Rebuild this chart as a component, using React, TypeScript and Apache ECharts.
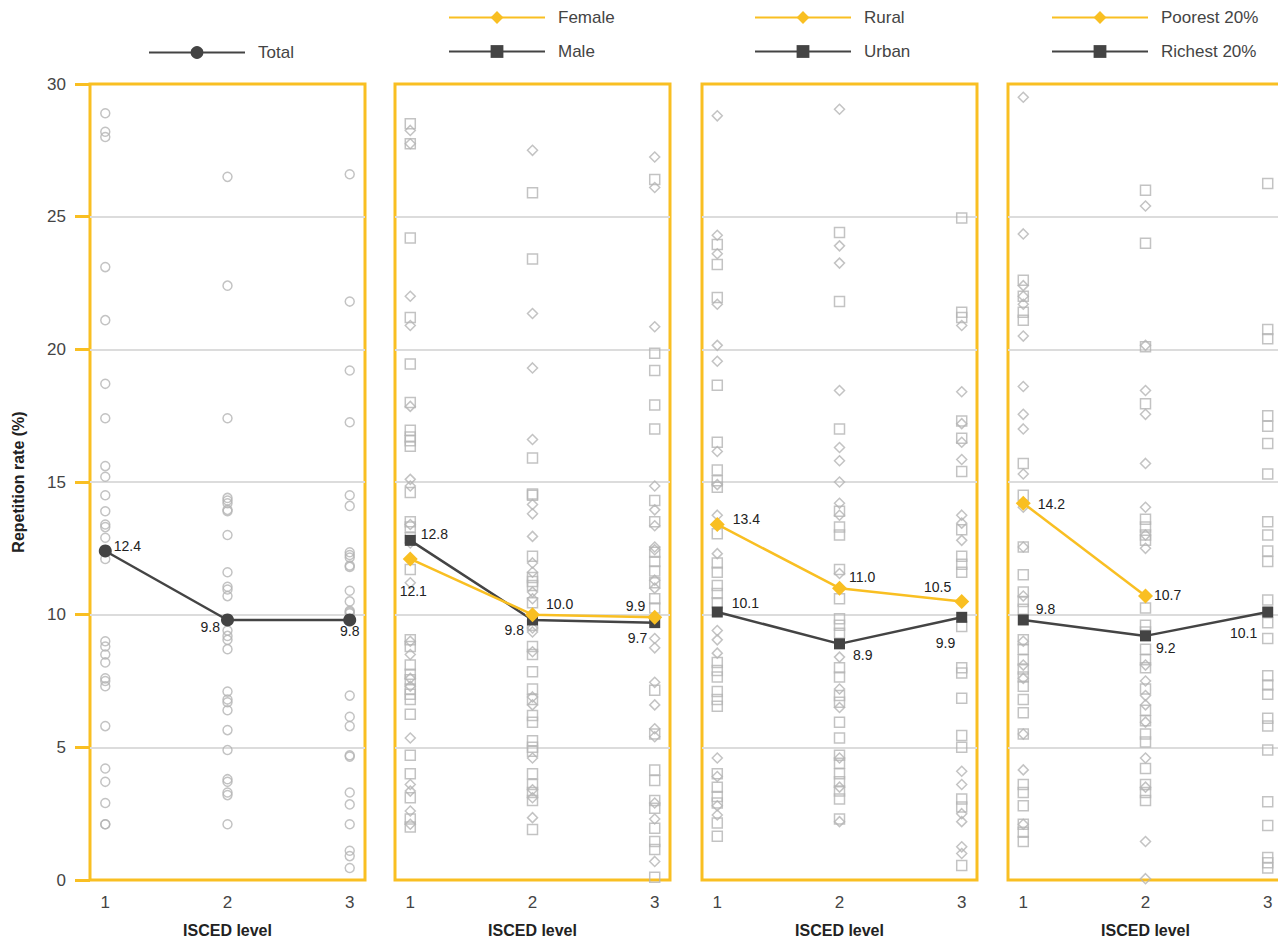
import React, { useEffect, useRef } from 'react';
import * as echarts from 'echarts';

// ---------- data ----------
const levels = [1, 2, 3];
const yTicks = [0, 5, 10, 15, 20, 25, 30];

const totalLine = [12.4, 9.8, 9.8];
const femaleLine = [12.1, 10.0, 9.9];
const maleLine = [12.8, 9.8, 9.7];
const ruralLine = [13.4, 11.0, 10.5];
const urbanLine = [10.1, 8.9, 9.9];
const poorestLine = [14.2, 10.7];
const richestLine = [9.8, 9.2, 10.1];

// country values, panel 1 (total)
const totalL1 = [28.9, 28.2, 28.0, 23.1, 21.1, 18.7, 17.4, 15.6, 15.2, 14.5, 13.9, 13.4, 13.3, 12.9, 12.1, 9.0, 8.8, 8.5, 8.2, 7.6, 7.5, 7.3, 5.8, 4.2, 3.7, 2.9, 2.1, 2.1];
const totalL2 = [26.5, 22.4, 17.4, 14.4, 14.3, 14.2, 13.95, 13.9, 13.0, 11.6, 11.05, 10.95, 10.7, 9.4, 9.2, 9.05, 8.7, 7.1, 6.8, 6.7, 6.4, 5.65, 4.9, 3.8, 3.7, 3.3, 3.2, 2.1];
const totalL3 = [26.6, 21.8, 19.2, 17.25, 14.5, 14.1, 12.35, 12.25, 12.15, 11.85, 11.8, 10.9, 10.5, 10.15, 10.1, 10.05, 6.95, 6.15, 5.8, 4.7, 4.65, 3.3, 2.85, 2.1, 1.1, 0.9, 0.45];

// panel 2 (sex)
const femaleL1 = [28.25, 27.75, 22.0, 20.9, 17.85, 15.1, 14.85, 13.4, 12.7, 11.2, 9.0, 8.5, 7.6, 7.3, 5.35, 3.6, 3.35, 2.6, 2.1];
const femaleL2 = [27.5, 21.35, 19.3, 16.6, 14.15, 13.8, 12.95, 11.95, 11.6, 10.85, 10.6, 9.5, 9.35, 8.6, 6.9, 6.6, 4.6, 3.4, 3.1, 2.35];
const femaleL3 = [27.25, 26.1, 20.85, 14.85, 13.95, 13.35, 12.55, 12.45, 11.3, 11.0, 9.1, 8.75, 7.45, 6.6, 5.7, 5.4, 2.9, 2.3, 0.7];
const maleL1 = [28.5, 27.75, 24.2, 21.2, 19.45, 18.0, 16.95, 16.7, 16.55, 16.35, 14.6, 13.5, 13.3, 12.9, 11.7, 9.05, 8.8, 8.1, 7.75, 7.55, 7.2, 7.0, 6.8, 6.25, 4.7, 4.0, 3.1, 2.3, 2.0];
const maleL2 = [25.9, 23.4, 15.9, 14.5, 14.55, 12.2, 11.4, 11.25, 11.1, 10.45, 9.6, 8.8, 8.5, 7.85, 7.2, 6.8, 6.2, 5.95, 5.25, 5.0, 4.85, 4.0, 3.6, 3.3, 3.0, 1.9];
const maleL3 = [26.4, 19.85, 19.2, 17.9, 17.0, 14.3, 13.5, 12.35, 12.0, 11.65, 11.2, 10.6, 10.25, 7.15, 5.5, 4.15, 3.75, 3.0, 2.7, 1.95, 1.45, 1.15, 0.1];

// panel 3 (location)
const ruralL1 = [28.8, 24.3, 23.6, 21.7, 20.15, 19.55, 16.15, 14.9, 13.75, 12.3, 9.4, 9.05, 8.55, 4.6, 3.9, 2.8, 2.45];
const ruralL2 = [29.05, 23.9, 23.25, 18.45, 16.3, 15.8, 15.0, 14.2, 13.75, 11.55, 8.4, 7.2, 6.5, 4.6, 3.5, 2.2];
const ruralL3 = [20.9, 18.4, 17.2, 16.5, 15.85, 13.75, 13.45, 12.8, 4.1, 3.6, 2.5, 2.2, 1.25, 1.0];
const urbanL1 = [23.95, 23.2, 21.95, 18.65, 16.5, 15.45, 15.05, 14.8, 13.05, 11.95, 11.6, 11.1, 10.8, 10.45, 8.2, 7.9, 7.65, 7.1, 6.8, 6.55, 4.0, 3.5, 3.15, 2.9, 2.15, 1.65];
const urbanL2 = [24.4, 21.8, 17.0, 13.9, 13.3, 13.0, 11.7, 10.6, 9.85, 9.6, 9.3, 8.0, 7.65, 6.95, 6.7, 5.95, 5.35, 4.7, 4.4, 4.0, 3.7, 3.35, 3.05, 2.3];
const urbanL3 = [24.95, 21.4, 21.2, 17.3, 16.65, 15.4, 13.2, 12.2, 11.9, 11.6, 9.55, 8.0, 7.8, 6.85, 5.45, 5.0, 3.05, 2.75, 0.55];

// panel 4 (wealth)
const poorestL1 = [29.5, 24.35, 22.4, 22.0, 21.7, 20.5, 18.6, 17.55, 17.0, 15.3, 14.05, 12.55, 10.7, 9.0, 8.1, 7.6, 5.5, 4.15, 2.1];
const poorestL2 = [25.4, 20.15, 18.45, 17.55, 15.7, 14.05, 13.0, 12.5, 8.1, 7.5, 6.95, 6.6, 5.95, 4.6, 3.5, 1.45, 0.05];
const poorestL3: number[] = [];
const richestL1 = [22.6, 22.0, 21.4, 21.1, 15.7, 14.5, 12.55, 11.5, 10.85, 10.5, 10.2, 9.05, 8.7, 8.3, 7.95, 7.65, 7.3, 6.8, 6.3, 5.5, 3.6, 3.3, 2.8, 2.1, 1.8, 1.45];
const richestL2 = [26.0, 24.0, 20.1, 17.95, 13.6, 13.3, 13.0, 12.8, 10.25, 9.6, 9.35, 8.7, 8.3, 8.0, 7.2, 6.4, 6.0, 5.5, 5.2, 4.2, 3.6, 3.3, 3.0];
const richestL3 = [26.25, 20.75, 20.4, 17.5, 17.1, 16.45, 15.3, 13.5, 13.0, 12.4, 12.0, 10.55, 9.7, 9.1, 7.7, 7.35, 7.0, 6.1, 5.8, 4.9, 2.95, 2.05, 0.85, 0.65, 0.45];

// ---------- styles ----------
const YELLOW = '#F9BF22';
const DARK = '#444444';
const GREY = '#b4b4b4';
const FONT = "'Liberation Sans', Arial, Helvetica, sans-serif";

type LabelPos = [string, number, number];
const totalLabelPos: LabelPos[] = [['right', -3, -5], ['left', 4, 7], ['bottom', 0, -7]];
const femaleLabelPos: LabelPos[] = [['bottom', 3, 13], ['right', 1, -11], ['left', 3, -11]];
const maleLabelPos: LabelPos[] = [['right', 0, -6], ['left', 2, 10], ['left', 3, 15]];
const ruralLabelPos: LabelPos[] = [['right', 3, -5], ['right', -3, -11], ['left', 2, -14]];
const urbanLabelPos: LabelPos[] = [['right', 4, -9], ['right', 3, 11], ['left', 4, 26]];
const poorestLabelPos: LabelPos[] = [['right', 2, 1], ['right', -4, -1]];
const richestLabelPos: LabelPos[] = [['right', 2, -11], ['right', 0, 12], ['left', 0, 21]];

const gridLefts = [90, 395, 702, 1008];

interface LineDef { name: string; values: number[]; color: string; symbol: string; size: number; labels: LabelPos[] }
interface ScatterDef { symbol: string; size: number; byLevel: number[][] }
interface PanelDef { lines: LineDef[]; scatters: ScatterDef[]; legendLeft: number; legendTop: number }

const panels: PanelDef[] = [
  {
    lines: [{ name: 'Total', values: totalLine, color: DARK, symbol: 'circle', size: 13, labels: totalLabelPos }],
    scatters: [{ symbol: 'circle', size: 9, byLevel: [totalL1, totalL2, totalL3] }],
    legendLeft: 143, legendTop: 39,
  },
  {
    lines: [
      { name: 'Female', values: femaleLine, color: YELLOW, symbol: 'diamond', size: 15, labels: femaleLabelPos },
      { name: 'Male', values: maleLine, color: DARK, symbol: 'rect', size: 11, labels: maleLabelPos },
    ],
    scatters: [
      { symbol: 'diamond', size: 10, byLevel: [femaleL1, femaleL2, femaleL3] },
      { symbol: 'rect', size: 10, byLevel: [maleL1, maleL2, maleL3] },
    ],
    legendLeft: 443, legendTop: 4,
  },
  {
    lines: [
      { name: 'Rural', values: ruralLine, color: YELLOW, symbol: 'diamond', size: 15, labels: ruralLabelPos },
      { name: 'Urban', values: urbanLine, color: DARK, symbol: 'rect', size: 11, labels: urbanLabelPos },
    ],
    scatters: [
      { symbol: 'diamond', size: 10, byLevel: [ruralL1, ruralL2, ruralL3] },
      { symbol: 'rect', size: 10, byLevel: [urbanL1, urbanL2, urbanL3] },
    ],
    legendLeft: 749, legendTop: 4,
  },
  {
    lines: [
      { name: 'Poorest 20%', values: poorestLine, color: YELLOW, symbol: 'diamond', size: 15, labels: poorestLabelPos },
      { name: 'Richest 20%', values: richestLine, color: DARK, symbol: 'rect', size: 11, labels: richestLabelPos },
    ],
    scatters: [
      { symbol: 'diamond', size: 10, byLevel: [poorestL1, poorestL2, poorestL3] },
      { symbol: 'rect', size: 10, byLevel: [richestL1, richestL2, richestL3] },
    ],
    legendLeft: 1046, legendTop: 4,
  },
];

function buildOption() {
  const grid: any[] = [];
  const xAxis: any[] = [];
  const yAxis: any[] = [];
  const series: any[] = [];
  const legend: any[] = [];

  panels.forEach((p, i) => {
    grid.push({
      left: gridLefts[i], top: 84, width: 275, height: 796,
      outerBoundsMode: 'none', containLabel: false,
      show: true, borderColor: YELLOW, borderWidth: 3, backgroundColor: 'transparent',
    });
    xAxis.push({
      type: 'value', gridIndex: i, min: 0.875, max: 3.125, interval: 0.125,
      axisLine: { show: false }, axisTick: { show: false }, splitLine: { show: false },
      axisLabel: {
        show: true, fontSize: 17, color: '#444', margin: 14, fontFamily: FONT,
        formatter: (v: number) => (levels.indexOf(v) >= 0 ? String(v) : ''),
      },
      name: 'ISCED level', nameLocation: 'middle', nameGap: 42,
      nameTextStyle: { fontSize: 16, fontWeight: 'bold', color: '#222', fontFamily: FONT },
    });
    yAxis.push({
      type: 'value', gridIndex: i, min: yTicks[0], max: yTicks[yTicks.length - 1], interval: 5,
      axisLine: { show: false },
      axisTick: { show: i === 0, inside: false, length: 15, lineStyle: { color: YELLOW, width: 3 } },
      axisLabel: { show: i === 0, fontSize: 17, color: '#444', margin: 24, fontFamily: FONT },
      splitLine: { show: true, showMinLine: false, showMaxLine: false, lineStyle: { color: '#dcdcdc', width: 2 } },
      name: i === 0 ? 'Repetition rate (%)' : '',
      nameLocation: 'middle', nameRotate: 90, nameGap: 64,
      nameTextStyle: { fontSize: 16, fontWeight: 'bold', color: '#222', fontFamily: FONT },
    });

    p.scatters.forEach((s) => {
      const data: number[][] = [];
      s.byLevel.forEach((vals, li) => vals.forEach((v) => data.push([levels[li], v])));
      series.push({
        type: 'scatter', xAxisIndex: i, yAxisIndex: i, data, symbol: s.symbol, symbolSize: s.size,
        silent: true, z: 2,
        itemStyle: { color: 'rgba(255,255,255,0)', borderColor: GREY, borderWidth: 1.5 },
      });
    });

    const lineOrder = [...p.lines].reverse();
    lineOrder.forEach((l) => {
      series.push({
        type: 'line', name: l.name, xAxisIndex: i, yAxisIndex: i, z: 5, silent: true,
        symbol: l.symbol, symbolSize: l.size,
        lineStyle: { color: l.color, width: 2.5 },
        itemStyle: { color: l.color },
        data: l.values.map((v, k) => ({
          value: [levels[k], v],
          label: {
            show: true, position: l.labels[k][0], offset: [l.labels[k][1], l.labels[k][2]],
            formatter: v.toFixed(1), fontSize: 14, color: '#222', fontFamily: FONT,
          },
        })),
      });
    });

    legend.push({
      data: p.lines.map((l) => l.name),
      left: p.legendLeft, top: p.legendTop, orient: 'vertical', itemGap: 17,
      itemWidth: 96, itemHeight: 16, selectedMode: false,
      textStyle: { fontSize: 17, color: '#444', fontFamily: FONT, padding: [0, 0, 0, 8] },
    });
  });

  return {
    animation: false,
    backgroundColor: '#ffffff',
    textStyle: { fontFamily: FONT },
    grid, xAxis, yAxis, series, legend,
  };
}

export default function App() {
  const ref = useRef<HTMLDivElement>(null);
  useEffect(() => {
    const chart = echarts.init(ref.current!, null, { renderer: 'svg' });
    chart.setOption(buildOption());
    return () => chart.dispose();
  }, []);
  return (
    <div
      ref={ref}
      style={{ position: 'absolute', left: 0, top: 0, width: 1278, height: 943, background: '#fff' }}
    />
  );
}
